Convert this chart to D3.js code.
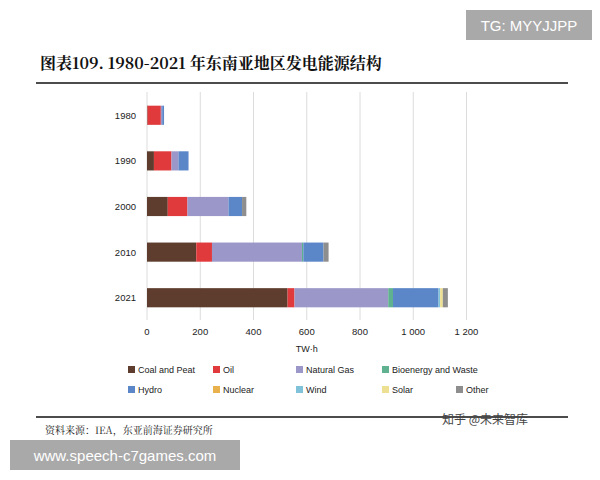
<!DOCTYPE html><html><head><meta charset="utf-8"><script src="https://cdn.jsdelivr.net/npm/d3@7"></script>
<style>body{margin:0;background:#fff}</style></head><body><svg id="c" width="600" height="480"></svg>
<script>
const years=["1980","1990","2000","2010","2021"];
const seriesNames=["Coal and Peat","Oil","Natural Gas","Bioenergy and Waste","Hydro","Nuclear","Wind","Solar","Other"];
const colors=["#5e3d2f","#e03a3c","#9b98c9","#5fb18f","#5b87c9","#e9b14b","#7fc2d9","#eee092","#8e8e8e"];
const coal=[2,26,78,185,528];
const oil=[50,66,74,59,26];
const gas=[5,26,154,338,352];
const bio=[0,0,0,5,18];
const hydro=[7,38,51,76,171];
const nuclear=[0,0,0,0,0];
const wind=[0,0,0,0,6];
const solar=[0,0,0,0,10];
const other=[0,0,16,19,19];
const xTicks=[0,200,400,600,800,1000,1200];
const tickLabels=["0","200","400","600","800","1 000","1 200"];
const vals=[coal,oil,gas,bio,hydro,nuclear,wind,solar,other];
const rows=years.map((y,i)=>{const o={year:y};seriesNames.forEach((s,j)=>o[s]=vals[j][i]);return o;});
const svg=d3.select("#c");
const x=d3.scaleLinear().domain([0,1200]).range([147,466.5]);
const y=d3.scaleBand().domain(years).range([92,321]).paddingInner(0.58).paddingOuter(0.3);
const F="Liberation Sans, Arial, sans-serif";
svg.append("g").selectAll("line").data(xTicks).join("line").attr("x1",d=>x(d)).attr("x2",d=>x(d)).attr("y1",92).attr("y2",320).attr("stroke","#dcdcdc");
const st=d3.stack().keys(seriesNames)(rows);
svg.append("g").selectAll("g").data(st).join("g").attr("fill",(d,i)=>colors[i]).selectAll("rect").data(d=>d).join("rect")
 .attr("x",d=>x(d[0])).attr("width",d=>x(d[1])-x(d[0])).attr("y",d=>y(d.data.year)).attr("height",y.bandwidth());
svg.append("g").selectAll("text").data(years).join("text").attr("x",136).attr("y",d=>y(d)+y.bandwidth()/2+3.5).attr("text-anchor","end").attr("font-family",F).attr("font-size",9.5).attr("fill","#222").text(d=>d);
svg.append("g").selectAll("text").data(xTicks).join("text").attr("x",d=>x(d)).attr("y",335).attr("text-anchor","middle").attr("font-family",F).attr("font-size",9.5).attr("fill","#222").text((d,i)=>tickLabels[i]);
svg.append("text").attr("x",x(600)).attr("y",352).attr("text-anchor","middle").attr("font-family",F).attr("font-size",9).attr("fill","#222").text("TW·h");
const lx=[128,213,296,382,456];
seriesNames.forEach((s,i)=>{const r=i<4?0:1,c=i<4?i:i-4;const g=svg.append("g").attr("transform",`translate(${lx[c]},${r?390:370})`);
 g.append("rect").attr("x",0).attr("y",-4).attr("width",7).attr("height",7).attr("fill",colors[i]);
 g.append("text").attr("x",10).attr("y",3).attr("font-family",F).attr("font-size",9).attr("fill","#222").text(s);});
svg.append("text").attr("x",40).attr("y",69).attr("font-family","Noto Serif CJK SC, Noto Sans CJK SC, serif").attr("font-weight","bold").attr("font-size",16).attr("fill","#111").text("图表109. 1980-2021 年东南亚地区发电能源结构");
svg.append("line").attr("x1",36).attr("x2",568).attr("y1",83).attr("y2",83).attr("stroke","#111").attr("stroke-width",1.5);
svg.append("line").attr("x1",36).attr("x2",568).attr("y1",417).attr("y2",417).attr("stroke","#111").attr("stroke-width",1.5);
svg.append("text").attr("x",45).attr("y",434).attr("font-family","Noto Serif CJK SC, Noto Sans CJK SC, serif").attr("font-size",10).attr("fill","#222").text("资料来源：IEA，东亚前海证券研究所");
svg.append("text").attr("x",442).attr("y",424).attr("font-family","Noto Sans CJK SC, sans-serif").attr("font-size",12).attr("fill","#444").text("知乎 @未来智库");
svg.append("rect").attr("x",466).attr("y",10).attr("width",126).attr("height",30).attr("fill","#a9a9a9");
svg.append("text").attr("x",529).attr("y",31).attr("text-anchor","middle").attr("font-family",F).attr("font-size",15).attr("fill","#fff").text("TG: MYYJJPP");
svg.append("rect").attr("x",10).attr("y",440).attr("width",230).attr("height",30).attr("fill","#a9a9a9");
svg.append("text").attr("x",125).attr("y",461).attr("text-anchor","middle").attr("font-family",F).attr("font-size",15).attr("fill","#fff").text("www.speech-c7games.com");
</script></body></html>
